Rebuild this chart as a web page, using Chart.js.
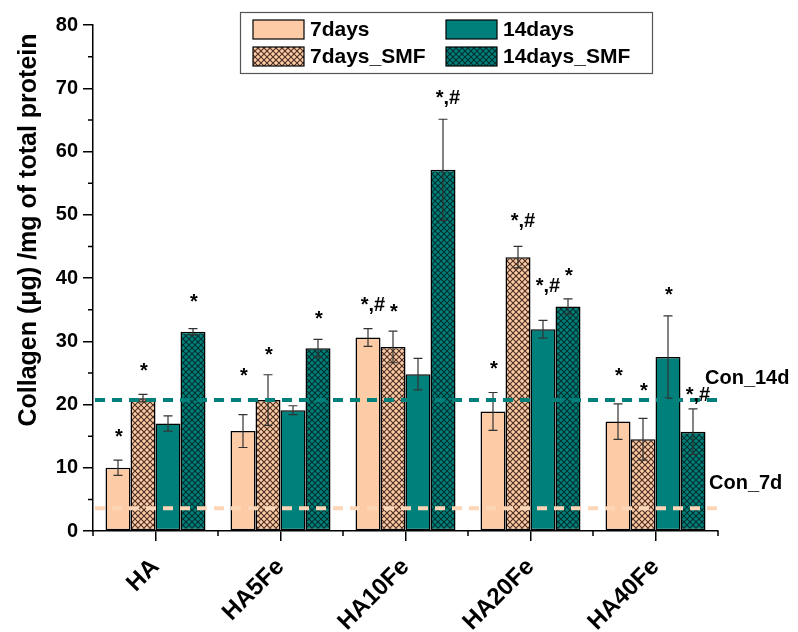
<!DOCTYPE html>
<html>
<head>
<meta charset="utf-8">
<script src="https://cdn.jsdelivr.net/npm/chart.js@4.4.1/dist/chart.umd.min.js"></script>
<style>
  html, body { margin: 0; padding: 0; background: #fff; }
  #wrap { width: 798px; height: 632px; }
</style>
</head>
<body>
<div id="wrap"><canvas id="chart" width="798" height="632"></canvas></div>
<script>
const categories = ['HA', 'HA5Fe', 'HA10Fe', 'HA20Fe', 'HA40Fe'];

const d7 = [10.0, 15.8, 30.6, 18.9, 17.3];
const d7Err = [1.2, 2.6, 1.4, 3.0, 2.8];
const d7SMF = [21.0, 20.7, 29.1, 43.3, 14.5];
const d7SMFErr = [0.6, 4.0, 2.5, 1.7, 3.3];
const d14 = [17.0, 19.1, 24.8, 31.9, 27.5];
const d14Err = [1.2, 0.7, 2.5, 1.4, 6.5];
const d14SMF = [31.5, 28.9, 57.1, 35.5, 15.7];
const d14SMFErr = [0.5, 1.4, 8.0, 1.2, 3.6];

// significance marks and the level (in y units) where each mark sits
const d7Mark = ['*', '*', '*,#', '*', '*'];
const d7SMFMark = ['*', '*', '*', '*,#', '*'];
const d14Mark = ['', '', '', '*,#', '*'];
const d14SMFMark = ['*', '*', '*,#', '*', '*,#'];
const d7MarkY = [15.5, 25.1, 36.3, 26.2, 25.1];
const d7SMFMarkY = [25.9, 28.4, 35.3, 49.6, 22.7];
const d14MarkY = [0, 0, 0, 39.3, 38.0];
const d14SMFMarkY = [36.9, 34.1, 69.1, 40.9, 22.2];

// control levels
const con14d = 20.7;
const con7d = 3.6;

const yTicks = [0, 10, 20, 30, 40, 50, 60, 70, 80];

const PEACH = '#fdcca6';
const TEAL = '#00807b';
const FONT = '"Liberation Sans", Arial, sans-serif';

function hatch(bg, line) {
  const s = 6;
  const c = document.createElement('canvas');
  c.width = s; c.height = s;
  const g = c.getContext('2d');
  g.fillStyle = bg;
  g.fillRect(0, 0, s, s);
  g.strokeStyle = line;
  g.lineWidth = 1.1;
  g.beginPath();
  g.moveTo(-1, -1); g.lineTo(s + 1, s + 1);
  g.moveTo(-1, s + 1); g.lineTo(s + 1, -1);
  g.stroke();
  return g.createPattern(c, 'repeat');
}

const peachHatch = hatch(PEACH, '#4a2e22');
const tealHatch = hatch(TEAL, '#002e2c');

// order of bars inside each group: 7d, 7d_SMF, 14d, 14d_SMF
const datasets = [
  { label: '7days', data: d7, backgroundColor: PEACH, err: d7Err, mark: d7Mark, markY: d7MarkY },
  { label: '7days_SMF', data: d7SMF, backgroundColor: peachHatch, err: d7SMFErr, mark: d7SMFMark, markY: d7SMFMarkY },
  { label: '14days', data: d14, backgroundColor: TEAL, err: d14Err, mark: d14Mark, markY: d14MarkY },
  { label: '14days_SMF', data: d14SMF, backgroundColor: tealHatch, err: d14SMFErr, mark: d14SMFMark, markY: d14SMFMarkY },
].map(d => Object.assign(d, {
  borderColor: '#000',
  borderWidth: 1.5,
  borderSkipped: false,
  categoryPercentage: 0.8,
  barPercentage: 1.0,
}));

const extras = {
  id: 'extras',
  afterDatasetsDraw(chart) {
    const ctx = chart.ctx;
    const y = chart.scales.y;
    const x = chart.scales.x;
    const area = chart.chartArea;

    // error bars
    ctx.save();
    ctx.strokeStyle = '#333';
    ctx.lineWidth = 1.2;
    chart.data.datasets.forEach((ds, di) => {
      const meta = chart.getDatasetMeta(di);
      meta.data.forEach((bar, i) => {
        const v = ds.data[i], e = ds.err[i];
        const yt = y.getPixelForValue(v + e);
        const yb = y.getPixelForValue(v - e);
        ctx.beginPath();
        ctx.moveTo(bar.x, yt); ctx.lineTo(bar.x, yb);
        ctx.moveTo(bar.x - 4.5, yt); ctx.lineTo(bar.x + 4.5, yt);
        ctx.moveTo(bar.x - 4.5, yb); ctx.lineTo(bar.x + 4.5, yb);
        ctx.stroke();
      });
    });
    ctx.restore();

    // control dashed lines
    ctx.save();
    ctx.lineWidth = 4;
    ctx.setLineDash([10, 7]);
    [[con14d, TEAL], [con7d, '#fdd6b8']].forEach(([v, col]) => {
      const py = y.getPixelForValue(v);
      ctx.strokeStyle = col;
      ctx.beginPath();
      ctx.moveTo(area.left + 2, py);
      ctx.lineTo(area.right + 6, py);
      ctx.stroke();
    });
    ctx.restore();

    // significance marks
    ctx.save();
    ctx.fillStyle = '#000';
    ctx.font = 'bold 20px ' + FONT;
    ctx.textAlign = 'center';
    ctx.textBaseline = 'alphabetic';
    chart.data.datasets.forEach((ds, di) => {
      const meta = chart.getDatasetMeta(di);
      meta.data.forEach((bar, i) => {
        const t = ds.mark[i];
        if (!t) return;
        const py = y.getPixelForValue(ds.markY[i]) + 10;
        ctx.fillText(t, bar.x + (t.length > 1 ? 5 : 1), py);
      });
    });
    ctx.restore();

    // control labels
    ctx.save();
    ctx.fillStyle = '#000';
    ctx.font = 'bold 20px ' + FONT;
    ctx.textBaseline = 'middle';
    ctx.fillText('Con_14d', 705, y.getPixelForValue(con14d) - 22);
    ctx.fillText('Con_7d', 709, y.getPixelForValue(con7d) - 25);
    ctx.restore();

    // minor ticks
    ctx.save();
    ctx.strokeStyle = '#000';
    ctx.lineWidth = 1.5;
    ctx.beginPath();
    for (let v = 5; v < 80; v += 10) {
      const py = y.getPixelForValue(v);
      ctx.moveTo(area.left - 5, py); ctx.lineTo(area.left, py);
    }
    for (let i = 0; i <= categories.length; i++) {
      const px = x.getPixelForValue(i - 0.5);
      ctx.moveTo(px, area.bottom); ctx.lineTo(px, area.bottom + 5);
    }
    ctx.stroke();
    ctx.restore();

    // y title
    ctx.save();
    ctx.fillStyle = '#000';
    ctx.font = 'bold 25px ' + FONT;
    ctx.textAlign = 'center';
    ctx.textBaseline = 'middle';
    ctx.translate(29, 230);
    ctx.rotate(-Math.PI / 2);
    ctx.fillText('Collagen (\u03bcg) /mg of total protein', 0, 0);
    ctx.restore();

    // legend
    ctx.save();
    ctx.fillStyle = '#fff';
    ctx.fillRect(240, 12, 412, 61);
    ctx.strokeStyle = '#555';
    ctx.lineWidth = 1.2;
    ctx.strokeRect(240.5, 12.5, 412, 61);
    const order = [0, 2, 1, 3];
    ctx.font = 'bold 21px ' + FONT;
    ctx.textBaseline = 'middle';
    order.forEach((di, k) => {
      const ds = chart.data.datasets[di];
      const col = k % 2, row = Math.floor(k / 2);
      const bx = col ? 446 : 253;
      const by = row ? 47 : 20;
      ctx.fillStyle = ds.backgroundColor;
      ctx.fillRect(bx, by, 51, 19);
      ctx.strokeStyle = '#000';
      ctx.lineWidth = 1.2;
      ctx.strokeRect(bx, by, 51, 19);
      ctx.fillStyle = '#000';
      ctx.fillText(ds.label, bx + 57, by + 10);
    });
    ctx.restore();
  }
};

new Chart(document.getElementById('chart'), {
  type: 'bar',
  data: { labels: categories, datasets: datasets },
  options: {
    responsive: false,
    animation: false,
    devicePixelRatio: 1,
    layout: { padding: { top: 25, right: 80, left: 0, bottom: 0 } },
    plugins: { legend: { display: false }, tooltip: { enabled: false } },
    scales: {
      x: {
        offset: true,
        afterFit(s) { s.height = 101; },
        grid: { display: true, offset: false, drawOnChartArea: false, drawTicks: true, tickLength: 10, color: '#000', lineWidth: 1.5 },
        border: { display: true, color: '#000', width: 1.5 },
        ticks: { color: '#000', font: { family: FONT, size: 24, weight: 'bold' }, maxRotation: 45, minRotation: 45, padding: 12 },
      },
      y: {
        min: 0, max: 80,
        afterFit(s) { s.width = 93; },
        afterBuildTicks(s) { s.ticks = yTicks.map(v => ({ value: v })); },
        grid: { display: true, drawOnChartArea: false, drawTicks: true, tickLength: 10, color: '#000', lineWidth: 1.5 },
        border: { display: true, color: '#000', width: 1.5 },
        ticks: { color: '#000', font: { family: FONT, size: 20, weight: 'bold' }, padding: 5 },
      },
    },
  },
  plugins: [extras],
});
</script>
</body>
</html>
